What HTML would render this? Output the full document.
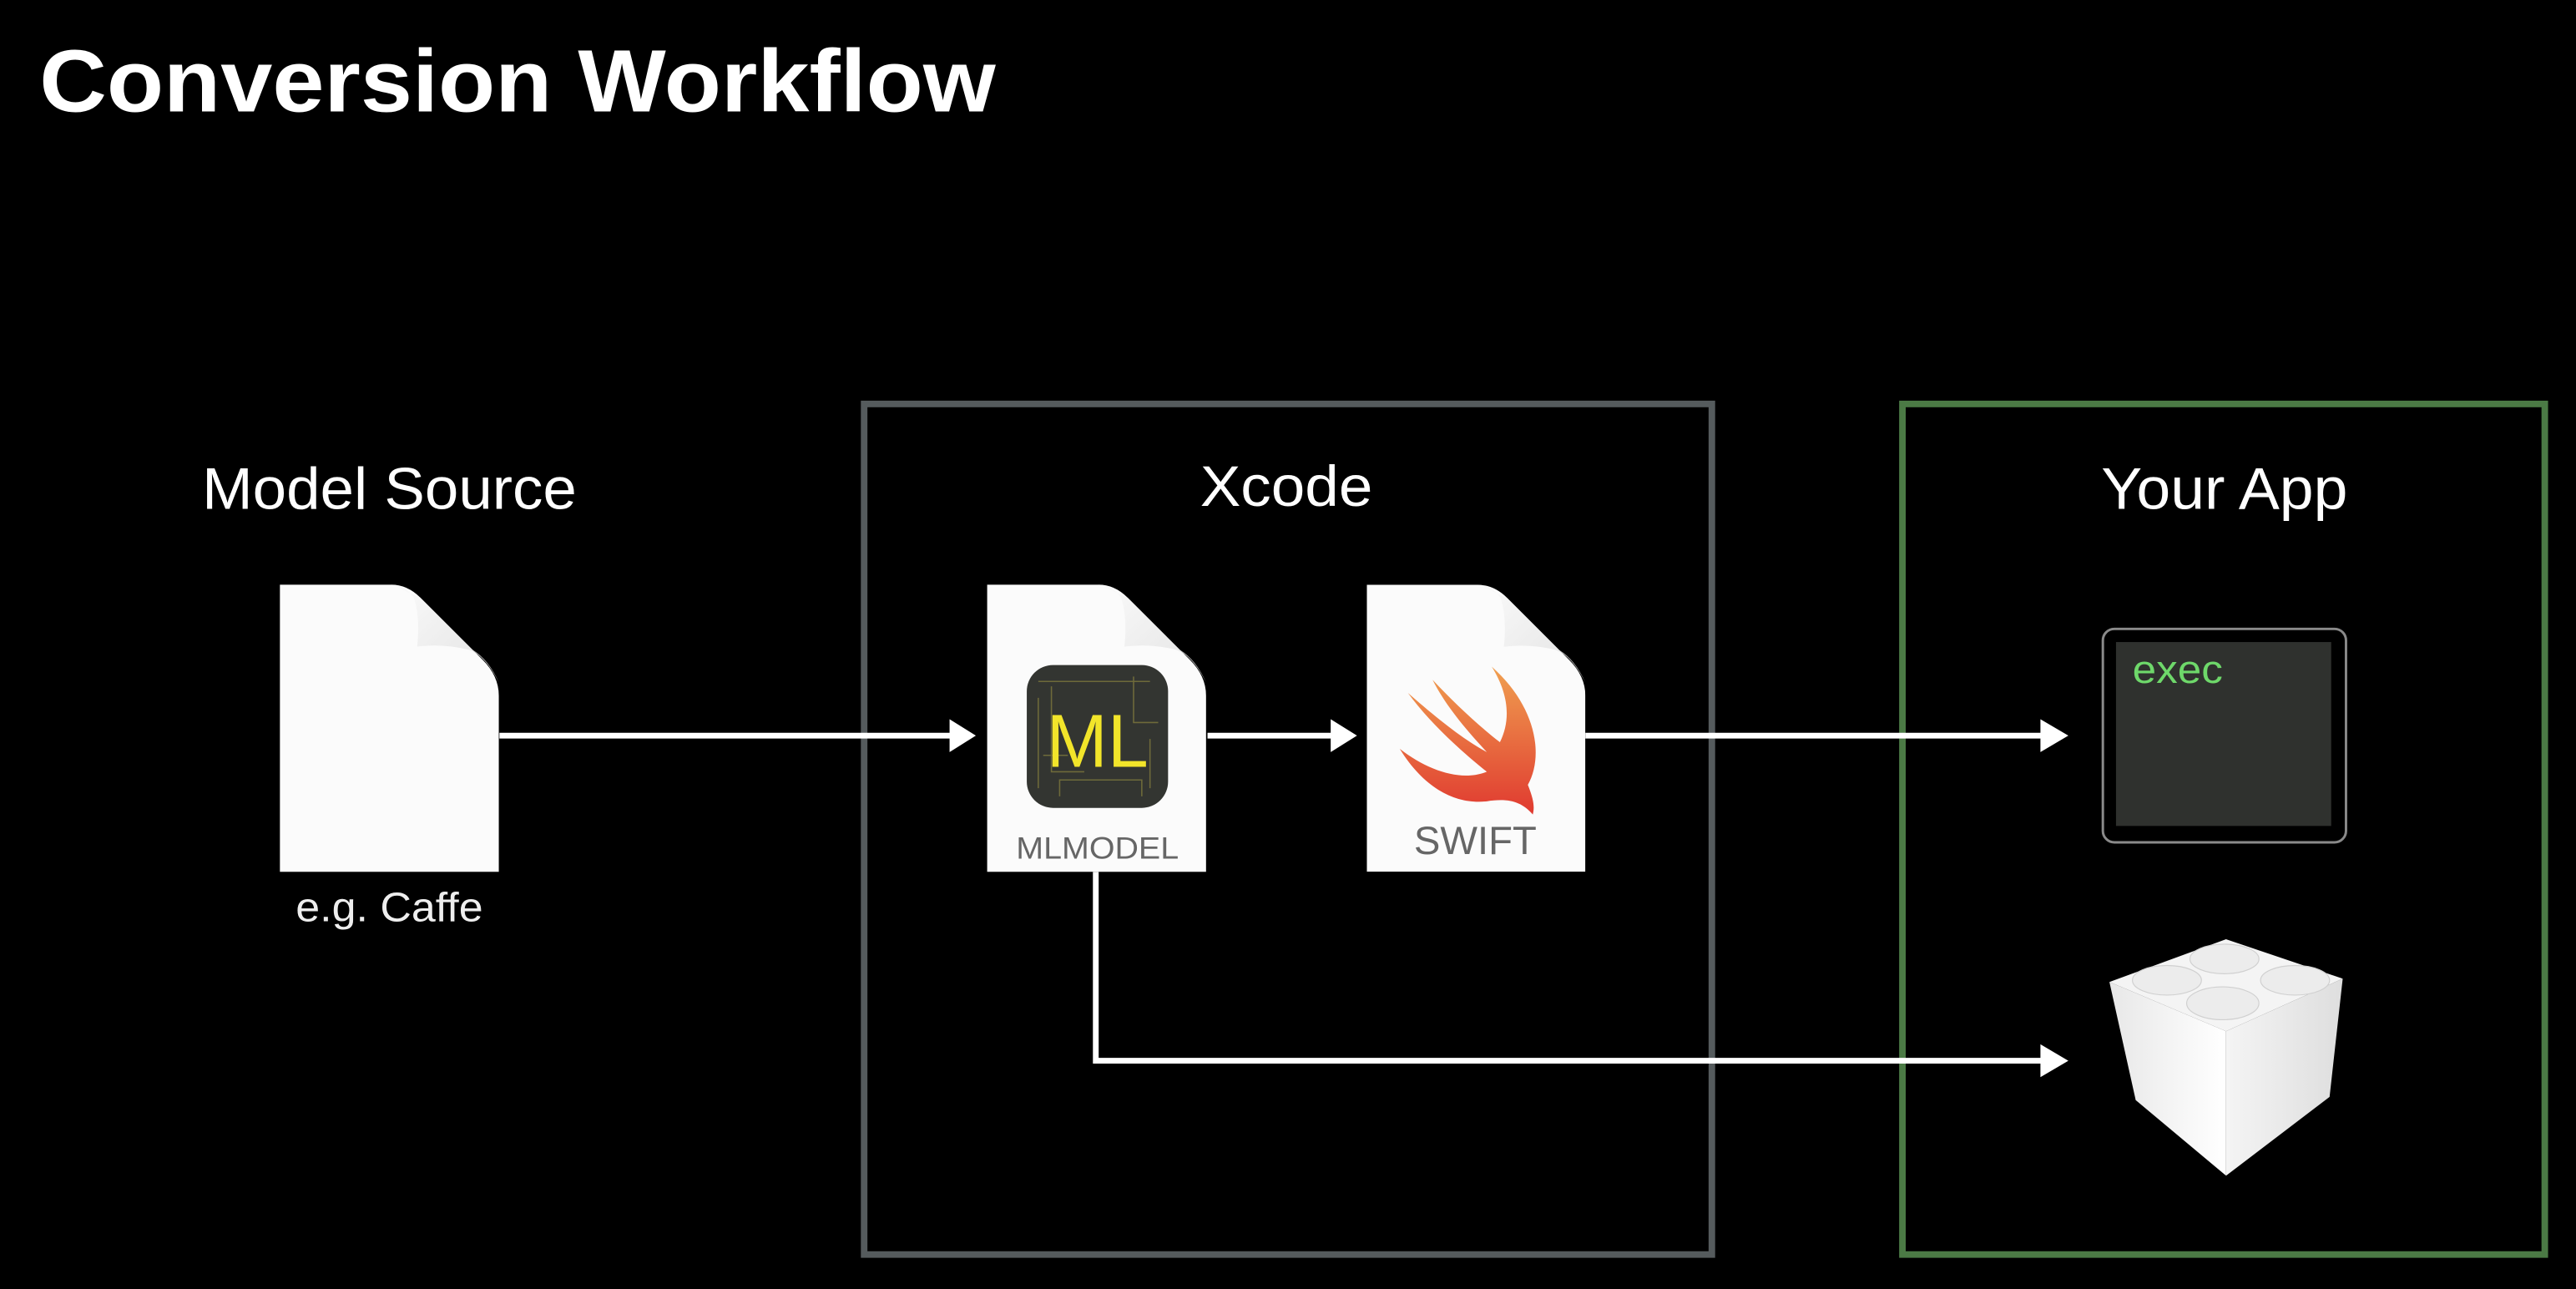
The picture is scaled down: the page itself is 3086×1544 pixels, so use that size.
<!DOCTYPE html>
<html><head><meta charset="utf-8"><style>
html,body{margin:0;padding:0;background:#000;width:3086px;height:1544px;overflow:hidden}
svg{display:block}
text{font-family:"Liberation Sans",sans-serif}
</style></head><body>
<svg width="3086" height="1544" viewBox="0 0 1568 785" preserveAspectRatio="none" xmlns="http://www.w3.org/2000/svg">
<defs>
<linearGradient id="fold" x1="0" y1="0" x2="1" y2="1"><stop offset="0" stop-color="#fafafa"/><stop offset="1" stop-color="#d8d8d8"/></linearGradient>
<linearGradient id="bird" x1="0" y1="0" x2="0" y2="1"><stop offset="0" stop-color="#f0a050"/><stop offset="1" stop-color="#e03a30"/></linearGradient>
<linearGradient id="legoL" x1="0" y1="0" x2="1" y2="0"><stop offset="0" stop-color="#e8e8e8"/><stop offset="1" stop-color="#ffffff"/></linearGradient>
<linearGradient id="legoR" x1="0" y1="0" x2="1" y2="0"><stop offset="0" stop-color="#f4f4f4"/><stop offset="1" stop-color="#dedede"/></linearGradient>
<symbol id="doc" viewBox="0 0 134 176">
<path d="M0 0 H68 Q78 0 86 8 L124 46 Q134 56 134 68 V176 H0 Z" fill="#fbfbfb"/>
<path d="M68 0 Q76 0 82 8 Q86 20 84 38 Q100 36 116 40 Q126 44 134 60 Q128 46 118 40 L86 8 Z" fill="url(#fold)" opacity="0.7"/>
</symbol>
</defs>

<text x="24" y="68" fill="#fff" font-size="54" font-weight="bold" textLength="582" lengthAdjust="spacingAndGlyphs">Conversion Workflow</text>

<rect x="526" y="246" width="516" height="518" fill="none" stroke="#555b5d" stroke-width="4"/>
<rect x="1158" y="246" width="391" height="518" fill="none" stroke="#4b7a45" stroke-width="4"/>

<text x="237" y="310" fill="#fff" font-size="36" text-anchor="middle" textLength="228" lengthAdjust="spacingAndGlyphs">Model Source</text>
<text x="783" y="308" fill="#fff" font-size="35" text-anchor="middle" textLength="105" lengthAdjust="spacingAndGlyphs">Xcode</text>
<text x="1354" y="310" fill="#fff" font-size="36" text-anchor="middle" textLength="150" lengthAdjust="spacingAndGlyphs">Your App</text>

<!-- docs -->
<use href="#doc" x="170" y="356" width="134" height="175"/>
<text x="237" y="561" fill="#eee" font-size="25" text-anchor="middle" textLength="114" lengthAdjust="spacingAndGlyphs">e.g. Caffe</text>

<use href="#doc" x="600" y="356" width="135" height="175"/>
<rect x="625" y="405" width="86" height="87" rx="16" fill="#333531"/>
<g stroke="#6e6a3a" stroke-width="0.8" fill="none">
<path d="M632 415 H700 M632 425 V480 M640 418 V470 H660 M690 412 V440 H705 M645 485 V475 H695 V485 M700 450 V480 M635 460 H650"/>
</g>
<text x="668" y="467" fill="#f2e52a" font-size="46" text-anchor="middle" textLength="62" lengthAdjust="spacingAndGlyphs">ML</text>
<text x="668" y="523" fill="#666" font-size="19" text-anchor="middle" textLength="99" lengthAdjust="spacingAndGlyphs">MLMODEL</text>

<use href="#doc" x="832" y="356" width="133" height="175"/>
<path d="M908 406 C935 430 940 460 930 478 C934 488 934 492 933 496 C926 488 918 486 905 488 C888 490 868 482 852 456 C870 470 890 476 905 470 C890 458 870 440 857 422 C873 436 890 450 905 458 C893 445 880 430 872 414 C885 428 900 442 913 452 C920 438 918 422 908 406 Z" fill="url(#bird)"/>
<text x="898" y="520" fill="#666" font-size="24" text-anchor="middle">SWIFT</text>

<!-- arrows -->
<g stroke="#fff" stroke-width="3.5" fill="none">
<path d="M304 448 H580"/>
<path d="M735 448 H812"/>
<path d="M965 448 H1246"/>
<path d="M667 531 V646 H1246"/>
</g>
<g fill="#fff">
<path d="M578 438 L594 448 L578 458 Z"/>
<path d="M810 438 L826 448 L810 458 Z"/>
<path d="M1242 438 L1259 448 L1242 458 Z"/>
<path d="M1242 636 L1259 646 L1242 656 Z"/>
</g>

<!-- terminal -->
<rect x="1280" y="383" width="148" height="130" rx="7" fill="#000" stroke="#8a8a8a" stroke-width="1.5"/>
<rect x="1288" y="391" width="131" height="112" fill="#2f312e"/>
<text x="1298" y="416" fill="#6ed86a" font-size="24" font-family="'DejaVu Sans','Liberation Sans',sans-serif" textLength="55" lengthAdjust="spacingAndGlyphs">exec</text>

<!-- lego -->
<path d="M1284 598 L1355 572 L1426 596 L1355 628 Z" fill="#f4f4f4"/>
<path d="M1284 598 L1355 628 L1355 716 L1300 670 Z" fill="url(#legoL)"/>
<path d="M1355 628 L1426 596 L1418 668 L1355 716 Z" fill="url(#legoR)"/>
<g fill="#ececec" stroke="#d0d0d0" stroke-width="0.6">
<ellipse cx="1354" cy="584" rx="21" ry="9"/>
<ellipse cx="1319" cy="597" rx="21" ry="9"/>
<ellipse cx="1397" cy="597" rx="21" ry="9"/>
<ellipse cx="1353" cy="611" rx="22" ry="10"/>
</g>
</svg>
</body></html>
